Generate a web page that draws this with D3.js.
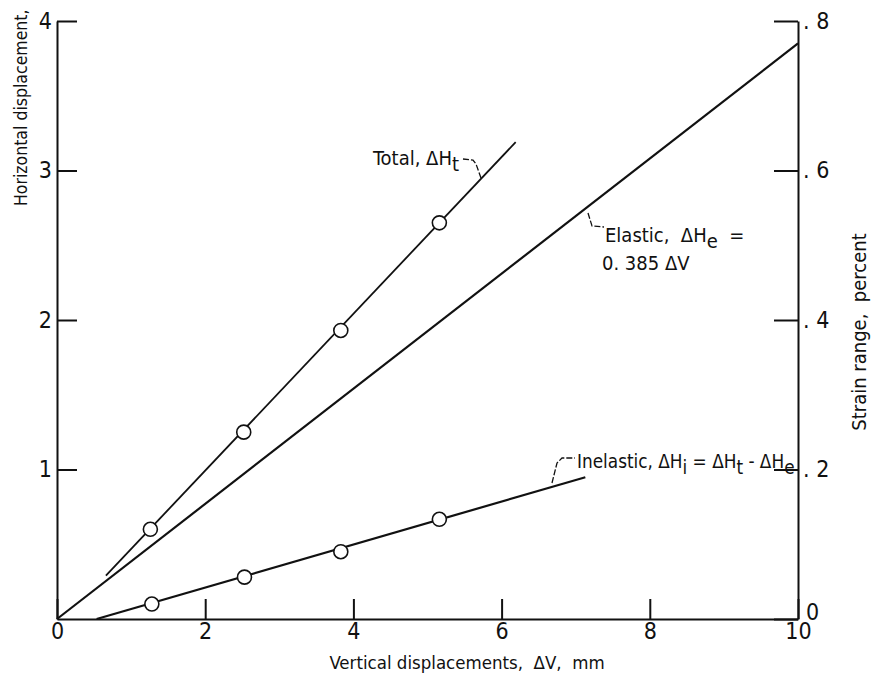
<!DOCTYPE html>
<html>
<head>
<meta charset="utf-8">
<script src="https://cdn.jsdelivr.net/npm/d3@7"></script>
<style>
  html, body { margin: 0; padding: 0; background: #fff; }
  svg { display: block; }
  text { font-family: "Liberation Sans Narrow", "DejaVu Sans Condensed", "Liberation Sans", sans-serif; fill: #111; white-space: pre; }
</style>
</head>
<body>
<svg id="chart" width="877" height="676"></svg>
<script>
// Measured points: vertical displacement ΔV (mm) vs horizontal displacement (mm)
const totalV = [1.26, 2.52, 3.83, 5.16];
const totalH = [0.60, 1.25, 1.93, 2.65];
const inelasticV = [1.28, 2.53, 3.83, 5.16];
const inelasticH = [0.10, 0.28, 0.45, 0.667];

// Faired lines drawn through the data (start / end points)
const totalFitV = [0.66, 6.19];
const totalFitH = [0.29, 3.19];
const elasticFitV = [0, 10];
const elasticFitH = [0, 3.85];
const inelasticFitV = [0.535, 7.13];
const inelasticFitH = [0.0, 0.948];

// Axis ticks
const xTicks = [0, 2, 4, 6, 8, 10];
const yTicks = [1, 2, 3, 4];
const strainTicks = [0, 0.2, 0.4, 0.6, 0.8];

const svg = d3.select("#chart");

const x = d3.scaleLinear().domain([0, 10]).range([57, 798]);
const y = d3.scaleLinear().domain([0, 4]).range([619, 21]);
const yStrain = d3.scaleLinear().domain([0, 0.8]).range([619, 21]);

// Axes
const axisStyle = g => {
  g.selectAll(".domain").attr("stroke", "#111").attr("stroke-width", 2);
  g.selectAll(".tick line").attr("stroke", "#111").attr("stroke-width", 2);
  g.selectAll(".tick text").attr("fill", "#111");
};

svg.append("g")
  .attr("transform", `translate(${x(0)},0)`)
  .call(d3.axisLeft(y).tickValues(yTicks).tickSizeInner(-20).tickSizeOuter(0).tickPadding(5)
    .tickFormat(d3.format("d")))
  .call(g => g.selectAll(".tick text").attr("font-size", 23).attr("font-family", null))
  .call(axisStyle);

svg.append("g")
  .attr("transform", `translate(0,${y(0)})`)
  .call(d3.axisBottom(x).tickValues(xTicks).tickSizeInner(-20).tickSizeOuter(0).tickPadding(4)
    .tickFormat(d3.format("d")))
  .call(g => g.selectAll(".tick text").attr("font-size", 23).attr("font-family", null))
  .call(axisStyle);

svg.append("g")
  .attr("transform", `translate(${x(10)},0)`)
  .call(d3.axisRight(yStrain).tickValues(strainTicks).tickSizeInner(-24).tickSizeOuter(0).tickPadding(5)
    .tickFormat(d => d === 0 ? "0" : ". " + Math.round(d * 10)))
  .call(g => g.selectAll(".tick text").attr("font-size", 23).attr("font-family", null))
  .call(g => g.selectAll(".tick").filter(d => d === 0).select("text").attr("x", 8).attr("dy", "0.0em"))
  .call(axisStyle);

// Axis titles
svg.append("text")
  .attr("transform", "translate(27,206) rotate(-90)")
  .attr("text-anchor", "start")
  .attr("font-size", 17.5)
  .text("Horizontal displacement,");

svg.append("text")
  .attr("transform", "translate(866,332) rotate(-90)")
  .attr("text-anchor", "middle")
  .attr("font-size", 20)
  .text("Strain range,  percent");

svg.append("text")
  .attr("x", 467).attr("y", 669)
  .attr("text-anchor", "middle")
  .attr("font-size", 18.5)
  .text("Vertical displacements,  \u0394V,  mm");

// Faired lines
const line = d3.line().x(d => x(d[0])).y(d => y(d[1]));
const fits = [
  { v: totalFitV, h: totalFitH, w: 1.8 },
  { v: elasticFitV, h: elasticFitH, w: 2.2 },
  { v: inelasticFitV, h: inelasticFitH, w: 2.2 }
];
svg.append("g").selectAll("path")
  .data(fits)
  .join("path")
  .attr("d", f => line(d3.zip(f.v, f.h)))
  .attr("fill", "none")
  .attr("stroke", "#111")
  .attr("stroke-width", f => f.w);

// Data points (open circles)
const pts = d3.zip(totalV, totalH).concat(d3.zip(inelasticV, inelasticH));
svg.append("g").selectAll("circle")
  .data(pts)
  .join("circle")
  .attr("cx", d => x(d[0]))
  .attr("cy", d => y(d[1]))
  .attr("r", 7)
  .attr("fill", "#fff")
  .attr("stroke", "#111")
  .attr("stroke-width", 1.6);

// Annotation text: plain strings, or { s: "..." } for a lowered subscript
function label(xp, yp, parts, size) {
  const t = svg.append("text").attr("x", xp).attr("y", yp).attr("font-size", size);
  let lowered = false;
  parts.forEach(p => {
    if (typeof p === "string") {
      t.append("tspan").attr("dy", lowered ? -6 : 0).text(p);
      lowered = false;
    } else {
      t.append("tspan").attr("dy", lowered ? 0 : 6).text(p.s);
      lowered = true;
    }
  });
  return t;
}
const leader = pts2 => svg.append("path")
  .attr("d", d3.line()(pts2))
  .attr("fill", "none").attr("stroke", "#111").attr("stroke-width", 1.3)
  .attr("stroke-dasharray", "6,2");

// Total
label(373, 165, ["Total, \u0394H", { s: "t" }], 20);
leader([[463, 159], [473, 160], [476, 164], [481, 178]]);

// Elastic
label(605, 242, ["Elastic,  \u0394H", { s: "e" }, "  ="], 20);
label(602, 270, ["0. 385 \u0394V"], 20);
leader([[588, 213], [592, 226], [604, 227]]);

// Inelastic
label(577, 468, ["Inelastic, \u0394H", { s: "i" }, " = \u0394H", { s: "t" }, " - \u0394H", { s: "e" }], 18.8);
leader([[552, 483], [557, 463], [562, 458], [575, 458]]);
</script>
</body>
</html>
